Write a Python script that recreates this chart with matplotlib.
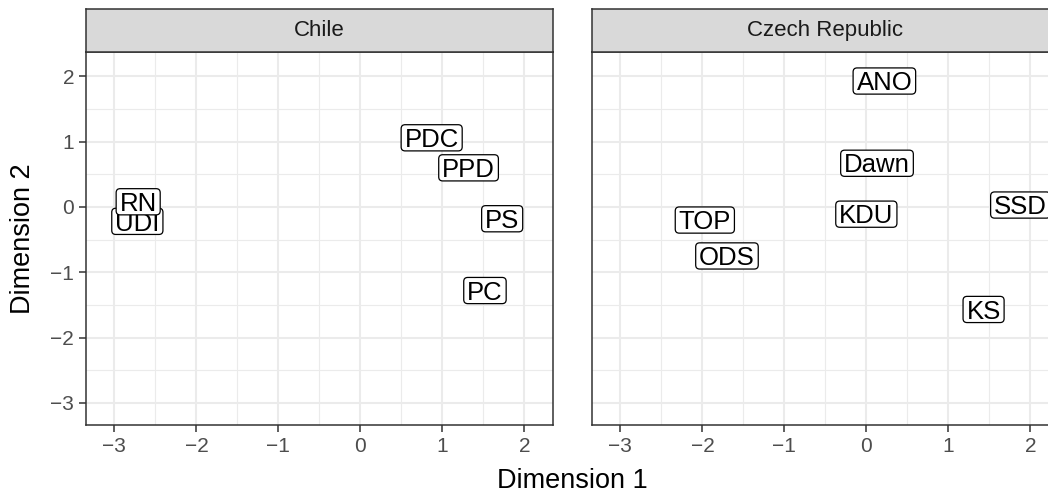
########################################################
# Required Python Packages
########################################################

import numpy as np
import matplotlib
matplotlib.use("Agg")
import matplotlib.pyplot as plt
from matplotlib.patches import FancyBboxPatch
from matplotlib.transforms import offset_copy, IdentityTransform

########################################################
# Data
########################################################

chile_parties = ["UDI", "RN", "PDC", "PPD", "PS", "PC"]
chile_dim1 = [-2.72, -2.71, 0.87, 1.32, 1.73, 1.52]
chile_dim2 = [-0.22, 0.08, 1.06, 0.60, -0.18, -1.28]

czech_parties = ["ANO", "Dawn", "KDU", "SSD", "TOP", "ODS", "KS"]
czech_dim1 = [0.22, 0.13, 0.00, 1.88, -1.97, -1.70, 1.43]
czech_dim2 = [1.93, 0.67, -0.11, 0.03, -0.20, -0.75, -1.57]

panel_titles = ["Chile", "Czech Republic"]
x_title = "Dimension 1"
y_title = "Dimension 2"

########################################################
# Style
########################################################

plt.rcParams['font.family'] = ['Liberation Sans', 'DejaVu Sans']

W, H, DPI = 1048, 493, 100
GRID = "#EBEBEB"
DARK = "#333333"
TICK_TXT = "#4D4D4D"
LABEL_FS = 18.5
CAP = 0.716 * LABEL_FS  # cap height in points


def px_axes(fig, x0, y0, x1, y1):
    # axes placed by pixel box (top-left origin)
    return fig.add_axes([x0 / W, 1 - y1 / H, (x1 - x0) / W, (y1 - y0) / H])


def style_panel(ax, show_y):
    ax.set_xlim(-3.35, 2.35)
    ax.set_ylim(-3.34, 2.37)
    ax.set_xticks(range(-3, 3))
    ax.set_xticks(np.arange(-2.5, 2.1, 1), minor=True)
    ax.set_yticks(range(-3, 3))
    ax.set_yticks(np.arange(-2.5, 2.1, 1), minor=True)
    ax.grid(which='major', color=GRID, lw=1.5)
    ax.grid(which='minor', color=GRID, lw=0.8)
    ax.set_axisbelow(True)
    ax.tick_params(which='major', length=4.9, width=1.1, color=DARK,
                   labelsize=15, labelcolor=TICK_TXT, pad=3.5)
    ax.tick_params(which='minor', length=0)
    if not show_y:
        ax.tick_params(axis='y', which='both', left=False, labelleft=False)
    for s in ax.spines.values():
        s.set_color(DARK)
        s.set_linewidth(1.1)


def add_strip(fig, x0, x1, title):
    sax = px_axes(fig, x0, 9, x1, 52.3)
    sax.set_facecolor("#D9D9D9")
    sax.set_xticks([])
    sax.set_yticks([])
    for s in sax.spines.values():
        s.set_color(DARK)
        s.set_linewidth(1.1)
    sax.text(0.5, 0.5, title, ha='center', va='center', fontsize=16,
             color="#1A1A1A", transform=sax.transAxes)


def add_labels(fig, ax, names, xs, ys):
    trans = offset_copy(ax.transData, fig=fig, y=-CAP / 2, units='points')
    texts = []
    for i, (n, x, y) in enumerate(zip(names, xs, ys)):
        t = ax.text(x, y, n, transform=trans, ha='center', va='baseline',
                    fontsize=LABEL_FS, color='black', zorder=4 + 2 * i)
        texts.append((t, x, y, i))
    return texts


def draw_boxes(fig, ax, texts, renderer):
    cap_px = CAP * DPI / 72
    for t, x, y, i in texts:
        bb = t.get_window_extent(renderer)
        base = ax.transData.transform((x, y))[1] - cap_px / 2
        padx, pady = 3.4, 3.9
        box = FancyBboxPatch((bb.x0 - padx, base - pady),
                             bb.width + 2 * padx, cap_px + 2 * pady,
                             boxstyle='round,pad=0,rounding_size=4',
                             transform=IdentityTransform(),
                             fc='white', ec='black', lw=0.9, zorder=3 + 2 * i)
        ax.add_artist(box)


########################################################
# Main
########################################################

def main():
    fig = plt.figure(figsize=(W / DPI, H / DPI), dpi=DPI)

    ax1 = px_axes(fig, 85.7, 52.3, 553, 425)
    ax2 = px_axes(fig, 591.7, 52.3, 1059, 425)
    style_panel(ax1, True)
    style_panel(ax2, False)

    add_strip(fig, 85.7, 553, panel_titles[0])
    add_strip(fig, 591.7, 1059, panel_titles[1])

    t1 = add_labels(fig, ax1, chile_parties, chile_dim1, chile_dim2)
    t2 = add_labels(fig, ax2, czech_parties, czech_dim1, czech_dim2)

    fig.text(572.4 / W, 1 - 488 / H, x_title, ha='center', va='baseline',
             fontsize=19.5, color='black')
    fig.text(23 / W, 1 - 238.7 / H, y_title, ha='center', va='center',
             rotation=90, fontsize=19.5, color='black')

    fig.canvas.draw()
    renderer = fig.canvas.get_renderer()
    draw_boxes(fig, ax1, t1, renderer)
    draw_boxes(fig, ax2, t2, renderer)

    fig.savefig("out.png", dpi=DPI, facecolor='white')


if __name__ == "__main__":
    main()
